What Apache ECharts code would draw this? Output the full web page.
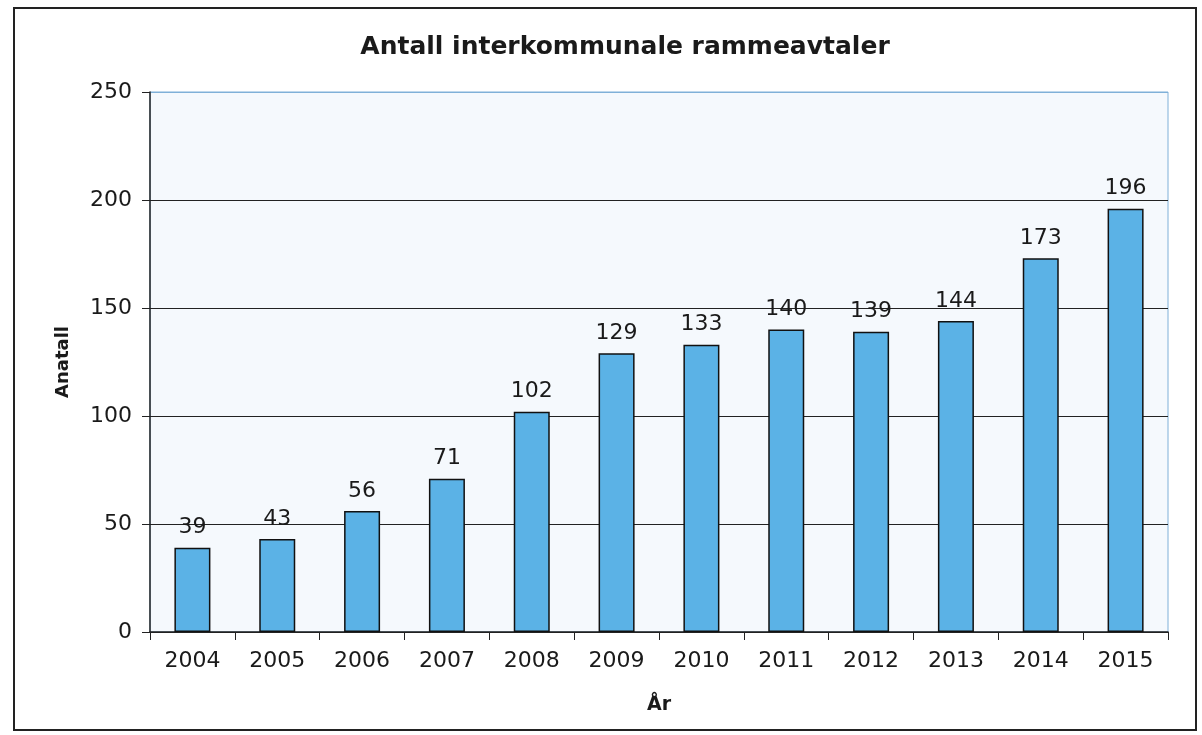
<!DOCTYPE html>
<html>
<head>
<meta charset="utf-8">
<script src="https://cdn.jsdelivr.net/npm/echarts@6/dist/echarts.min.js"></script>
<style>
  html, body { margin: 0; padding: 0; background: #fff; }
  #chart { width: 1202px; height: 735px; }
</style>
</head>
<body>
<div id="chart"></div>
<script>
var years = ['2004', '2005', '2006', '2007', '2008', '2009', '2010', '2011', '2012', '2013', '2014', '2015']
var antall = [39, 43, 56, 71, 102, 129, 133, 140, 139, 144, 173, 196]

var chart = echarts.init(document.getElementById('chart'))

chart.setOption({
  backgroundColor: '#fff',
  animation: false,
  textStyle: { fontFamily: 'DejaVu Sans, Arial, sans-serif' },
  title: {
    text: 'Antall interkommunale rammeavtaler',
    left: 620,
    top: 30,
    textAlign: 'center',
    textStyle: { fontSize: 25, fontWeight: 'bold', color: '#1a1a1a', fontFamily: 'DejaVu Sans' }
  },
  graphic: [{
    type: 'rect',
    shape: { x: 14, y: 8, width: 1182, height: 722 },
    style: { fill: 'none', stroke: '#222', lineWidth: 2 },
    silent: true
  }],
  grid: {
    left: 150,
    right: 34,
    top: 92,
    bottom: 103,
    show: true,
    backgroundColor: '#f5f9fd',
    borderColor: '#7fb0d8',
    borderWidth: 1
  },
  xAxis: {
    type: 'category',
    data: years,
    name: 'År',
    nameLocation: 'middle',
    nameGap: 64,
    nameTextStyle: { fontSize: 19, fontWeight: 'bold', color: '#1a1a1a' },
    axisLine: { lineStyle: { color: '#222', width: 1.5 } },
    axisTick: { show: true, length: 8, lineStyle: { color: '#222' } },
    axisLabel: { fontSize: 22, color: '#1a1a1a', margin: 18 }
  },
  yAxis: {
    type: 'value',
    min: 0,
    max: 250,
    interval: 50,
    name: 'Anatall',
    nameLocation: 'middle',
    nameGap: 78,
    nameRotate: 90,
    nameTextStyle: { fontSize: 18, fontWeight: 'bold', color: '#1a1a1a' },
    axisLine: { show: true, lineStyle: { color: '#222', width: 1.5 } },
    axisTick: { show: true, length: 8, lineStyle: { color: '#222' } },
    axisLabel: { fontSize: 22, color: '#1a1a1a', margin: 18 },
    splitLine: {
      show: true,
      lineStyle: { color: ['#222', '#222', '#222', '#222', '#222', '#7fb0d8'], width: 1 }
    }
  },
  series: [{
    type: 'bar',
    data: antall,
    barWidth: 36,
    itemStyle: { color: '#5bb2e6', borderColor: '#111', borderWidth: 1.5 },
    label: {
      show: true,
      position: 'top',
      distance: 9,
      fontSize: 22,
      color: '#1a1a1a'
    }
  }]
})
</script>
</body>
</html>
